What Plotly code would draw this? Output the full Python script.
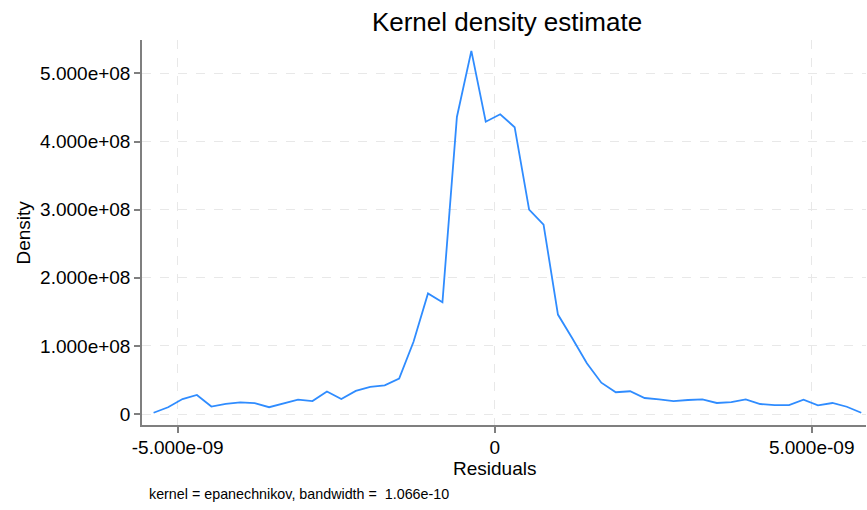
import plotly.graph_objects as go

# Kernel density estimate of residuals
residuals = [
    -5.380e-09, -5.152e-09, -4.924e-09, -4.697e-09, -4.469e-09, -4.241e-09,
    -4.013e-09, -3.785e-09, -3.558e-09, -3.330e-09, -3.102e-09, -2.874e-09,
    -2.646e-09, -2.419e-09, -2.191e-09, -1.963e-09, -1.735e-09, -1.507e-09,
    -1.280e-09, -1.052e-09, -0.824e-09, -0.596e-09, -0.368e-09, -0.141e-09,
    0.087e-09, 0.315e-09, 0.543e-09, 0.771e-09, 0.998e-09, 1.226e-09,
    1.454e-09, 1.682e-09, 1.910e-09, 2.137e-09, 2.365e-09, 2.593e-09,
    2.821e-09, 3.049e-09, 3.276e-09, 3.504e-09, 3.732e-09, 3.960e-09,
    4.188e-09, 4.415e-09, 4.643e-09, 4.871e-09, 5.099e-09, 5.327e-09,
    5.554e-09, 5.782e-09,
]
density = [
    1.9e6, 9.9e6, 2.2e7, 2.8e7, 1.1e7, 1.5e7, 1.7e7, 1.6e7, 1.0e7, 1.5e7,
    2.1e7, 1.9e7, 3.3e7, 2.2e7, 3.4e7, 4.0e7, 4.2e7, 5.2e7, 1.06e8, 1.77e8,
    1.64e8, 4.36e8, 5.33e8, 4.29e8, 4.40e8, 4.21e8, 3.00e8, 2.78e8, 1.46e8, 1.11e8,
    7.46e7, 4.6e7, 3.2e7, 3.34e7, 2.35e7, 2.16e7, 1.9e7, 2.06e7, 2.16e7, 1.62e7,
    1.76e7, 2.16e7, 1.47e7, 1.32e7, 1.32e7, 2.1e7, 1.28e7, 1.62e7, 1.07e7, 1.9e6,
]

x_tickvals = [-5e-09, 0, 5e-09]
x_ticktext = ["-5.000e-09", "0", "5.000e-09"]
y_tickvals = [0, 1e8, 2e8, 3e8, 4e8, 5e8]
y_ticktext = ["0", "1.000e+08", "2.000e+08", "3.000e+08", "4.000e+08", "5.000e+08"]

FONT = "Liberation Sans, Arial, sans-serif"
AXIS_GRAY = "#7f7f7f"
GRID = "#e8e8e8"

fig = go.Figure()
fig.add_trace(go.Scatter(
    x=residuals, y=density, mode="lines",
    line=dict(color="#2f8cff", width=1.8),
    hoverinfo="skip", showlegend=False,
))

fig.update_layout(
    width=867, height=510,
    margin=dict(l=142, r=1, t=40, b=85),
    paper_bgcolor="white", plot_bgcolor="white",
    font=dict(family=FONT, color="black"),
    title=dict(text="Kernel density estimate", x=507 / 867, xref="container",
               xanchor="center",
               y=1 - 22 / 510, yref="container", yanchor="middle",
               font=dict(size=26, color="black", family=FONT)),
    xaxis=dict(
        range=[-5.563e-09, 5.857e-09],
        tickvals=x_tickvals, ticktext=x_ticktext,
        tickfont=dict(size=19, color="black"),
        ticklabelstandoff=-2,
        showline=True, linecolor=AXIS_GRAY, linewidth=1.5,
        ticks="outside", ticklen=6, tickcolor=AXIS_GRAY, tickwidth=1.5,
        showgrid=True, gridcolor=GRID, griddash="dash", gridwidth=1,
        zeroline=False,
    ),
    yaxis=dict(
        range=[-0.161e8, 5.49e8],
        tickvals=y_tickvals, ticktext=y_ticktext,
        tickfont=dict(size=19, color="black"),
        showline=True, linecolor=AXIS_GRAY, linewidth=1.5,
        ticks="outside", ticklen=6, tickcolor=AXIS_GRAY, tickwidth=1.5,
        showgrid=True, gridcolor=GRID, griddash="dash", gridwidth=1,
        zeroline=False,
    ),
    annotations=[
        dict(text="Residuals", xref="paper", yref="paper",
             x=(494 - 142) / 724, y=(425 - 468) / 385,
             xanchor="center", yanchor="middle", showarrow=False,
             font=dict(size=19, color="black", family=FONT)),
        dict(text="Density", xref="paper", yref="paper", textangle=-90,
             x=(23 - 142) / 724, y=0.5,
             xanchor="center", yanchor="middle", showarrow=False,
             font=dict(size=19, color="black", family=FONT)),
        dict(text="kernel = epanechnikov, bandwidth =  1.066e-10",
             xref="paper", yref="paper", x=0.007, y=-0.179,
             xanchor="left", yanchor="middle", showarrow=False,
             font=dict(size=14.3, color="black", family=FONT)),
    ],
)

fig.write_html("out.html")
